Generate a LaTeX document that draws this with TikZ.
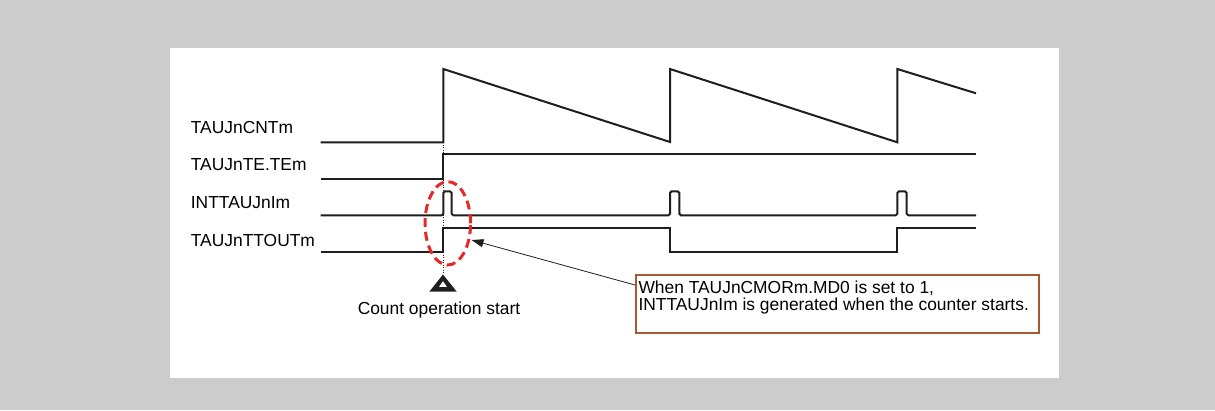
\documentclass[tikz,border=0pt]{standalone}
\usepackage{fontspec}
\setmainfont{Liberation Sans}
\usetikzlibrary{shapes.geometric,arrows.meta}
\definecolor{bggray}{RGB}{204,204,204}
\definecolor{sigcol}{RGB}{30,30,30}
\definecolor{boxbrown}{RGB}{168,88,48}
\definecolor{ellred}{RGB}{230,40,40}
\tikzset{
  sig/.style={draw=sigcol, line width=2pt, line join=miter},
  pulse/.style={sig, rounded corners=1.6pt},
  lbl/.style={anchor=base west, inner sep=0pt, font=\fontsize{17.4}{17.4}\selectfont},
  guide/.style={draw=sigcol, line width=0.8pt, dash pattern=on 1pt off 1.5pt},
  ring/.style={ellipse, draw=ellred, line width=3pt, dash pattern=on 9pt off 5pt, inner sep=0pt, minimum width=45.6pt, minimum height=83.4pt},
  notebox/.style={draw=boxbrown, line width=1.8pt, anchor=north west, minimum width=402.7pt, minimum height=58pt, inner sep=0pt},
  notetext/.style={anchor=north west, align=left, inner sep=0pt, font=\fontsize{17.4}{16.8}\selectfont},
  pointer/.style={draw=sigcol, line width=0.8pt, -{Triangle[length=12pt,width=8pt]}}
}
\begin{document}
\begin{tikzpicture}[x=1pt,y=-1pt]
\fill[bggray] (0,0) rectangle (1215,410);
\fill[white] (170,47.5) rectangle (1059,377.7);
\useasboundingbox (0,0) rectangle (1215,410);

% dotted guide at start
\draw[guide] (443.3,142.3) -- (443.3,274);

% labels
\node[lbl] (l1) at (190.7,133) {TAUJnCNTm};
\node[lbl] (l2) at (190.7,170) {TAUJnTE.TEm};
\node[lbl] (l3) at (190.7,208.3) {INTTAUJnIm};
\node[lbl] (l4) at (190.7,246) {TAUJnTTOUTm};

% TAUJnCNTm
\draw[sig] (320.7,142.3) -- (443.3,142.3) -- (443.3,69) -- (670,142) -- (670,69) -- (897.3,142.3) -- (897.3,69) -- (976,93.3);
% TAUJnTE.TEm
\draw[sig] (320.7,179) -- (443.3,179) -- (443.3,154.3) -- (976,154.3);
% INTTAUJnIm
\draw[pulse] (320.7,215.3) -- (443.3,215.3) -- (443.3,191.3) -- (451.7,191.3) -- (451.7,215.3) -- (670,215.3) -- (670,191.3) -- (679.3,191.3) -- (679.3,215.3) -- (897.3,215.3) -- (897.3,191.3) -- (906.7,191.3) -- (906.7,215.3) -- (976,215.3);
% TAUJnTTOUTm
\draw[sig] (320.7,251.7) -- (443.3,251.7) -- (443.3,227.7) -- (670,227.7) -- (670,251.7) -- (897.3,251.7) -- (897.3,227.7) -- (976,227.7);

% start marker
\fill[sigcol] (443,274.5) -- (456.7,291.7) -- (429.3,291.7) -- cycle;
\fill[white] (443,281.2) -- (446.9,286.9) -- (439.1,286.9) -- cycle;
\node[lbl, anchor=base] (cos) at (439,314) {Count operation start};

% red dashed ellipse
\node[ring] (ell) at (447.8,223.3) {};

% note box
\node[notebox] (box) at (635,274.3) {};
\node[notetext] (note) at (638.3,280.6) {When TAUJnCMORm.MD0 is set to 1,\\INTTAUJnIm is generated when the counter starts.};
\coordinate (arrstart) at (635,285);
\coordinate (tip) at (471.5,240);
\draw[pointer] (arrstart) -- (tip);
\end{tikzpicture}
\end{document}
